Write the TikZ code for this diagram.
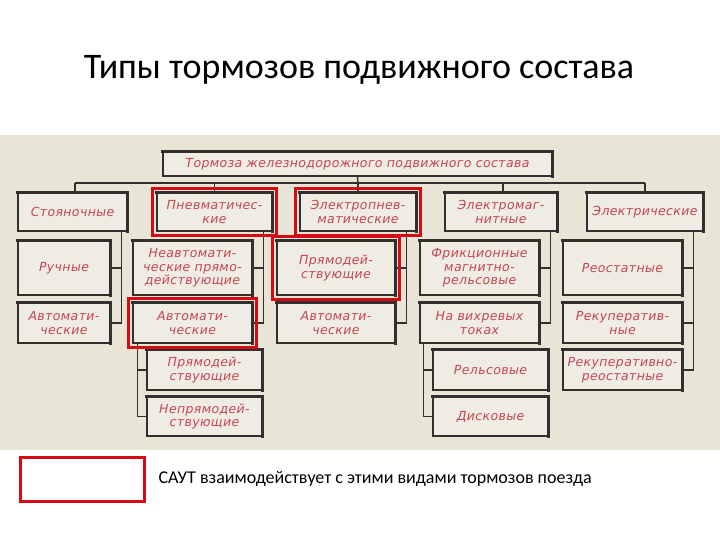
\documentclass[tikz,border=0pt]{standalone}
\usepackage{fontspec}
\setmainfont{Carlito}
\newfontfamily\gost[LetterSpace=3]{DejaVu Sans}
\usetikzlibrary{fit}
\definecolor{scan}{RGB}{232,228,214}
\definecolor{paper}{RGB}{239,236,227}
\definecolor{ink}{RGB}{50,48,46}
\definecolor{letter}{RGB}{196,70,84}
\definecolor{mark}{RGB}{214,10,20}
\tikzset{
  brake/.style={draw=ink,line width=1.3pt,fill=paper,text=letter,align=center,
    inner sep=0pt,font=\gost\itshape\fontsize{12.5}{13.5}\selectfont},
  edge/.style={draw=ink,line width=3pt,line cap=rect},
  link/.style={draw=ink,line width=1.3pt},
  hl/.style={draw=mark,line width=3pt,inner sep=4pt}
}
\begin{document}
\begin{tikzpicture}[x=1pt,y=-1pt]
\useasboundingbox (0,0) rectangle (720,540);
\fill[white] (0,0) rectangle (720,540);
\fill[scan] (0,135) rectangle (720,450);
\node[font=\fontsize{36}{40}\selectfont] (title) at (359,70) {Типы тормозов подвижного состава};

% top row
\node[brake,minimum width=389,minimum height=24] (top) at (357.5,164) {Тормоза железнодорожного подвижного состава};
\node[brake,minimum width=109,minimum height=38] (st) at (72.5,212) {Стояночные};
\node[brake,minimum width=115,minimum height=38] (pn) at (214.5,212) {Пневматичес-\\кие};
\node[brake,minimum width=116,minimum height=38] (ep) at (358,212) {Электропнев-\\матические};
\node[brake,minimum width=112,minimum height=38] (em) at (501,212) {Электромаг-\\нитные};
\node[brake,minimum width=116,minimum height=38] (el) at (645,212) {Электрические};

% second row
\node[brake,minimum width=92,minimum height=54] (ru) at (64,268) {Ручные};
\node[brake,minimum width=119,minimum height=54] (na) at (192.5,268) {Неавтомати-\\ческие прямо-\\действующие};
\node[brake,minimum width=118,minimum height=54] (pd1) at (336,268) {Прямодей-\\ствующие};
\node[brake,minimum width=119,minimum height=54] (fr) at (479.5,268) {Фрикционные\\магнитно-\\рельсовые};
\node[brake,minimum width=119,minimum height=54] (re) at (622.5,268) {Реостатные};

% third row
\node[brake,minimum width=92,minimum height=40] (av1) at (64,323) {Автомати-\\ческие};
\node[brake,minimum width=119,minimum height=40] (av2) at (192.5,323) {Автомати-\\ческие};
\node[brake,minimum width=118,minimum height=40] (av3) at (336,323) {Автомати-\\ческие};
\node[brake,minimum width=119,minimum height=40] (vt) at (479.5,323) {На вихревых\\токах};
\node[brake,minimum width=119,minimum height=40] (rk) at (622.5,323) {Рекуператив-\\ные};

% lower rows
\node[brake,minimum width=115,minimum height=40] (pd2) at (204.5,370) {Прямодей-\\ствующие};
\node[brake,minimum width=115,minimum height=40] (rl) at (490.5,370) {Рельсовые};
\node[brake,minimum width=119,minimum height=40] (rr) at (622.5,370) {Рекуперативно-\\реостатные};
\node[brake,minimum width=115,minimum height=39] (np) at (204.5,416.5) {Непрямодей-\\ствующие};
\node[brake,minimum width=115,minimum height=39] (ds) at (490.5,416.5) {Дисковые};

% shadow edges on top and right
\foreach \n in {top,st,pn,ep,em,el,ru,na,pd1,fr,re,av1,av2,av3,vt,rk,pd2,rl,rr,np,ds}
  \draw[edge] (\n.north west) -- (\n.north east) -- (\n.south east);

% bus under the title box
\coordinate (bus) at (358,183);
\draw[link] (top.south) -- (bus);
\draw[link] ([xshift=2.5]st.north |- bus) -- (el.north |- bus);
\foreach \n in {pn,ep,el}
  \draw[link] (\n.north |- bus) -- (\n.north);
\draw[link] ([xshift=2.5]st.north |- bus) -- ([xshift=2.5]st.north);
\draw[link] ([xshift=2]em.north |- bus) -- ([xshift=2]em.north);

% groups on the right side
\foreach \a/\b/\c in {ru/av1/st,na/av2/pn,pd1/av3/ep,fr/vt/em}{
  \draw[link] (\b.east) -- ++(11,0) coordinate (t) -- (t |- \c.south);
  \draw[link] (\a.east) -- (\a.east -| t);
}
\draw[link] (rr.east) -- ++(11,0) coordinate (t) -- (t |- el.south);
\draw[link] (re.east) -- (re.east -| t);
\draw[link] (rk.east) -- (rk.east -| t);

% groups on the left side
\foreach \a/\b/\c in {pd2/np/av2,rl/ds/vt}{
  \draw[link] (\b.west) -- ++(-9,0) coordinate (t) -- (t |- \c.south);
  \draw[link] (\a.west) -- (\a.west -| t);
}

% red marks
\foreach \n in {pn,ep,pd1,av2}
  \node[hl,fit=(\n)] (m\n) {};

% legend
\node[draw=mark,line width=3pt,minimum width=124,minimum height=44] (key) at (82,479) {};
\node[anchor=west,font=\fontsize{18}{21}\selectfont] (keytext) at (155,479) {САУТ взаимодействует с этими видами тормозов поезда};
\end{tikzpicture}
\end{document}
